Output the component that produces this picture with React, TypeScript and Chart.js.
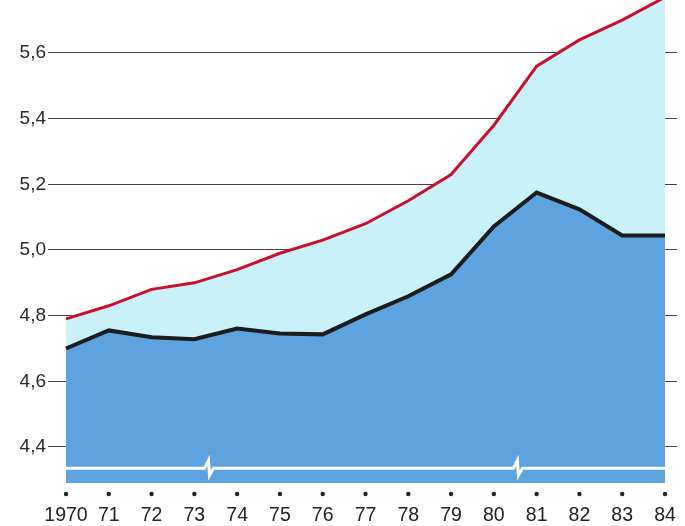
import React, { useEffect, useRef } from "react";
import { Chart, registerables } from "chart.js";

Chart.register(...registerables);

const years = [1970, 1971, 1972, 1973, 1974, 1975, 1976, 1977, 1978, 1979, 1980, 1981, 1982, 1983, 1984];
const upperValues = [4.79, 4.83, 4.88, 4.9, 4.94, 4.99, 5.03, 5.08, 5.15, 5.23, 5.38, 5.56, 5.64, 5.7, 5.77];
const lowerValues = [4.7, 4.755, 4.734, 4.728, 4.761, 4.746, 4.743, 4.804, 4.859, 4.926, 5.072, 5.175, 5.124, 5.044, 5.044];
const yTicks = [4.4, 4.6, 4.8, 5.0, 5.2, 5.4, 5.6];
const breakPositions = [1973.33, 1980.55];

const FONT = "'Liberation Sans', Arial, sans-serif";

const decorPlugin = {
  id: "decor",
  afterDatasetsDraw(chart: any) {
    const { ctx, scales } = chart;
    const x = scales.x;
    const y = scales.y;
    const yb = y.getPixelForValue(4.335);
    const x0 = x.getPixelForValue(years[0]);
    const x1 = x.getPixelForValue(years[years.length - 1]);
    ctx.save();
    ctx.strokeStyle = "#ffffff";
    ctx.lineWidth = 3;
    ctx.lineJoin = "miter";
    ctx.beginPath();
    ctx.moveTo(x0, yb);
    breakPositions.forEach((b) => {
      const bx = x.getPixelForValue(b);
      ctx.lineTo(bx - 4, yb);
      ctx.lineTo(bx, yb - 8);
      ctx.lineTo(bx + 1, yb + 7);
      ctx.lineTo(bx + 5, yb);
    });
    ctx.lineTo(x1, yb);
    ctx.stroke();
    ctx.restore();
  },
  afterDraw(chart: any) {
    const { ctx, scales, chartArea } = chart;
    const x = scales.x;
    ctx.save();
    ctx.fillStyle = "#222";
    years.forEach((yr) => {
      ctx.beginPath();
      ctx.arc(x.getPixelForValue(yr), chartArea.bottom + 11, 2.2, 0, Math.PI * 2);
      ctx.fill();
    });
    ctx.restore();
  },
};

export default function App() {
  const ref = useRef<HTMLCanvasElement>(null);
  useEffect(() => {
    document.body.style.margin = "0";
    const chart = new Chart(ref.current!, {
      type: "line",
      data: {
        datasets: [
          {
            data: years.map((yr, i) => ({ x: yr, y: lowerValues[i] })),
            borderColor: "#1c1c1c",
            borderWidth: 4,
            backgroundColor: "#5ca3df",
            fill: "start",
            pointRadius: 0,
            tension: 0,
          },
          {
            data: years.map((yr, i) => ({ x: yr, y: upperValues[i] })),
            borderColor: "#c8102e",
            borderWidth: 3,
            backgroundColor: "#c8f1f9",
            fill: "-1",
            pointRadius: 0,
            tension: 0,
          },
        ],
      },
      options: {
        animation: false,
        responsive: false,
        maintainAspectRatio: false,
        layout: { padding: { left: 0, right: 8, top: 0, bottom: 0 } },
        plugins: { legend: { display: false }, tooltip: { enabled: false } },
        scales: {
          x: {
            type: "linear",
            min: 1970 - 9 / 42.79,
            max: 1984 + 12 / 42.79,
            grid: { display: false },
            border: { display: false },
            afterBuildTicks: (s: any) => {
              s.ticks = years.map((v) => ({ value: v }));
            },
            afterFit: (s: any) => {
              s.height = 43;
              s.paddingLeft = 0;
              s.paddingRight = 0;
              s.paddingTop = 0;
              s.paddingBottom = 0;
            },
            ticks: {
              autoSkip: false,
              maxRotation: 0,
              padding: 13,
              color: "#222",
              font: { family: FONT, size: 19.5 },
              callback: (v: any) => (v === 1970 ? "1970" : String(Number(v) % 100)),
            },
          },
          y: {
            type: "linear",
            min: 4.2903,
            max: 5.7614,
            z: 1,
            grid: { color: "#444", lineWidth: 1, drawTicks: true, tickLength: 9 },
            border: { display: false },
            afterBuildTicks: (s: any) => {
              s.ticks = yTicks.map((v) => ({ value: v }));
            },
            afterFit: (s: any) => {
              s.width = 57;
              s.paddingLeft = 0;
              s.paddingRight = 0;
              s.paddingTop = 0;
              s.paddingBottom = 0;
            },
            ticks: {
              padding: 2,
              color: "#2a2a2a",
              font: { family: FONT, size: 19 },
              callback: (v: any) => Number(v).toFixed(1).replace(".", ","),
            },
          },
        },
      },
      plugins: [decorPlugin],
    } as any);
    return () => chart.destroy();
  }, []);
  return (
    <div style={{ position: "fixed", left: 0, top: 0, width: 685, height: 526, background: "#ffffff" }}>
      <canvas ref={ref} width={685} height={526} style={{ display: "block" }} />
    </div>
  );
}
